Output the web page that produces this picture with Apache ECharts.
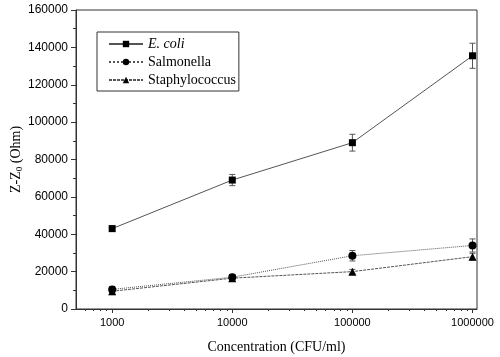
<!DOCTYPE html>
<html>
<head>
<meta charset="utf-8">
<script src="https://cdn.jsdelivr.net/npm/echarts@6/dist/echarts.min.js"></script>
<style>
  html, body { margin: 0; padding: 0; background: #fff; }
  #chart { width: 500px; height: 357px; }
</style>
</head>
<body>
<div id="chart"></div>
<script>
const concentrations = [1000, 10000, 100000, 1000000];
const ecoliMean = [43000, 69000, 89000, 135500];
const ecoliErr = [1500, 3000, 4500, 6700];
const salmonellaMean = [10500, 17000, 28500, 34000];
const salmonellaErr = [1500, 1500, 2800, 3500];
const staphMean = [9500, 16500, 20000, 28000];
const staphErr = [1800, 1800, 1200, 1800];

const majorTicks = [1000, 10000, 100000, 1000000];
const minorTicks = [600, 700, 800, 900,
  2000, 3000, 4000, 5000, 6000, 7000, 8000, 9000,
  20000, 30000, 40000, 50000, 60000, 70000, 80000, 90000,
  200000, 300000, 400000, 500000, 600000, 700000, 800000, 900000];

const XMin = Math.log10(500);
const XMax = Math.log10(1090000);
const SerifFont = '"Liberation Serif", "DejaVu Serif", serif';
const SansFont = '"Liberation Sans", Arial, sans-serif';

var chart = echarts.init(document.getElementById('chart'));

function lineData(mean) {
  return mean.map(function (v, i) { return [Math.log10(concentrations[i]), v]; });
}

function errData(mean, err) {
  return mean.map(function (v, i) { return [Math.log10(concentrations[i]), v - err[i], v + err[i]]; });
}

function renderErr(params, api) {
  var top = api.coord([api.value(0), api.value(2)]);
  var bottom = api.coord([api.value(0), api.value(1)]);
  var cap = 3;
  var style = { stroke: '#555', lineWidth: 1 };
  return {
    type: 'group',
    children: [
      { type: 'line', shape: { x1: top[0], y1: top[1], x2: bottom[0], y2: bottom[1] }, style: style },
      { type: 'line', shape: { x1: top[0] - cap, y1: top[1], x2: top[0] + cap, y2: top[1] }, style: style },
      { type: 'line', shape: { x1: bottom[0] - cap, y1: bottom[1], x2: bottom[0] + cap, y2: bottom[1] }, style: style }
    ]
  };
}

function lineSeries(name, mean, symbol, size, type) {
  return {
    name: name,
    type: 'line',
    data: lineData(mean),
    symbol: symbol,
    symbolSize: size,
    showSymbol: true,
    z: 3,
    itemStyle: { color: '#000' },
    lineStyle: { color: '#555', width: 1, type: type }
  };
}

function errSeries(mean, err) {
  return {
    type: 'custom',
    data: errData(mean, err),
    renderItem: renderErr,
    z: 2,
    silent: true
  };
}

var option = {
  backgroundColor: '#fff',
  animation: false,
  grid: {
    left: 76,
    right: 23,
    top: 10,
    bottom: 48,
    outerBoundsMode: 'none',
    show: true,
    borderColor: '#333',
    borderWidth: 1
  },
  legend: {
    data: ['E. coli', 'Salmonella', 'Staphylococcus'],
    orient: 'vertical',
    left: 97,
    top: 32,
    padding: [5, 3, 4, 11],
    itemGap: 4,
    itemWidth: 34,
    itemHeight: 8,
    borderColor: '#333',
    borderWidth: 1,
    textStyle: {
      fontFamily: SerifFont,
      fontSize: 14,
      color: '#000',
      rich: {
        i: { fontFamily: SerifFont, fontSize: 14, fontStyle: 'italic', color: '#000' }
      }
    },
    formatter: function (name) {
      return name === 'E. coli' ? '{i|E. coli}' : name;
    }
  },
  xAxis: [{
    type: 'value',
    min: XMin,
    max: XMax,
    name: 'Concentration (CFU/ml)',
    nameLocation: 'middle',
    nameGap: 31,
    nameMoveOverlap: false,
    nameTextStyle: { fontFamily: SerifFont, fontSize: 14, color: '#000' },
    axisLine: { show: true, onZero: false, lineStyle: { color: '#333', width: 1 } },
    axisTick: {
      show: true,
      length: 4,
      customValues: majorTicks.map(function (v) { return Math.log10(v); }),
      lineStyle: { color: '#333' }
    },
    axisLabel: {
      customValues: majorTicks.map(function (v) { return Math.log10(v); }),
      formatter: function (v) { return String(Math.round(Math.pow(10, v))); },
      fontFamily: SansFont,
      fontSize: 11,
      color: '#000',
      margin: 8
    },
    splitLine: { show: false }
  }, {
    type: 'value',
    min: XMin,
    max: XMax,
    position: 'bottom',
    axisLine: { show: false, onZero: false },
    axisTick: {
      show: true,
      length: 2,
      customValues: minorTicks.map(function (v) { return Math.log10(v); }),
      lineStyle: { color: '#333' }
    },
    axisLabel: { show: false },
    splitLine: { show: false }
  }],
  yAxis: {
    type: 'value',
    min: 0,
    max: 160000,
    interval: 20000,
    name: 'Z-Z{sub|0} (Ohm)',
    nameLocation: 'middle',
    nameGap: 52,
    nameMoveOverlap: false,
    nameRotate: 90,
    nameTextStyle: {
      fontFamily: SerifFont,
      fontSize: 14,
      color: '#000',
      rich: {
        sub: { fontFamily: SerifFont, fontSize: 9, color: '#000', verticalAlign: 'bottom', padding: [6, 0, 0, 0] }
      }
    },
    axisLine: { show: true, lineStyle: { color: '#333', width: 1 } },
    axisTick: { show: true, length: 5, lineStyle: { color: '#333' } },
    minorTick: { show: true, splitNumber: 2, length: 3, lineStyle: { color: '#333' } },
    axisLabel: {
      fontFamily: SansFont,
      fontSize: 12,
      color: '#000',
      margin: 8,
      formatter: function (v) { return String(v); }
    },
    splitLine: { show: false }
  },
  series: [
    errSeries(ecoliMean, ecoliErr),
    errSeries(salmonellaMean, salmonellaErr),
    errSeries(staphMean, staphErr),
    lineSeries('E. coli', ecoliMean, 'rect', 7, 'solid'),
    lineSeries('Salmonella', salmonellaMean, 'circle', 8, 'dotted'),
    lineSeries('Staphylococcus', staphMean, 'triangle', 8, [3, 1])
  ]
};

chart.setOption(option);
</script>
</body>
</html>
